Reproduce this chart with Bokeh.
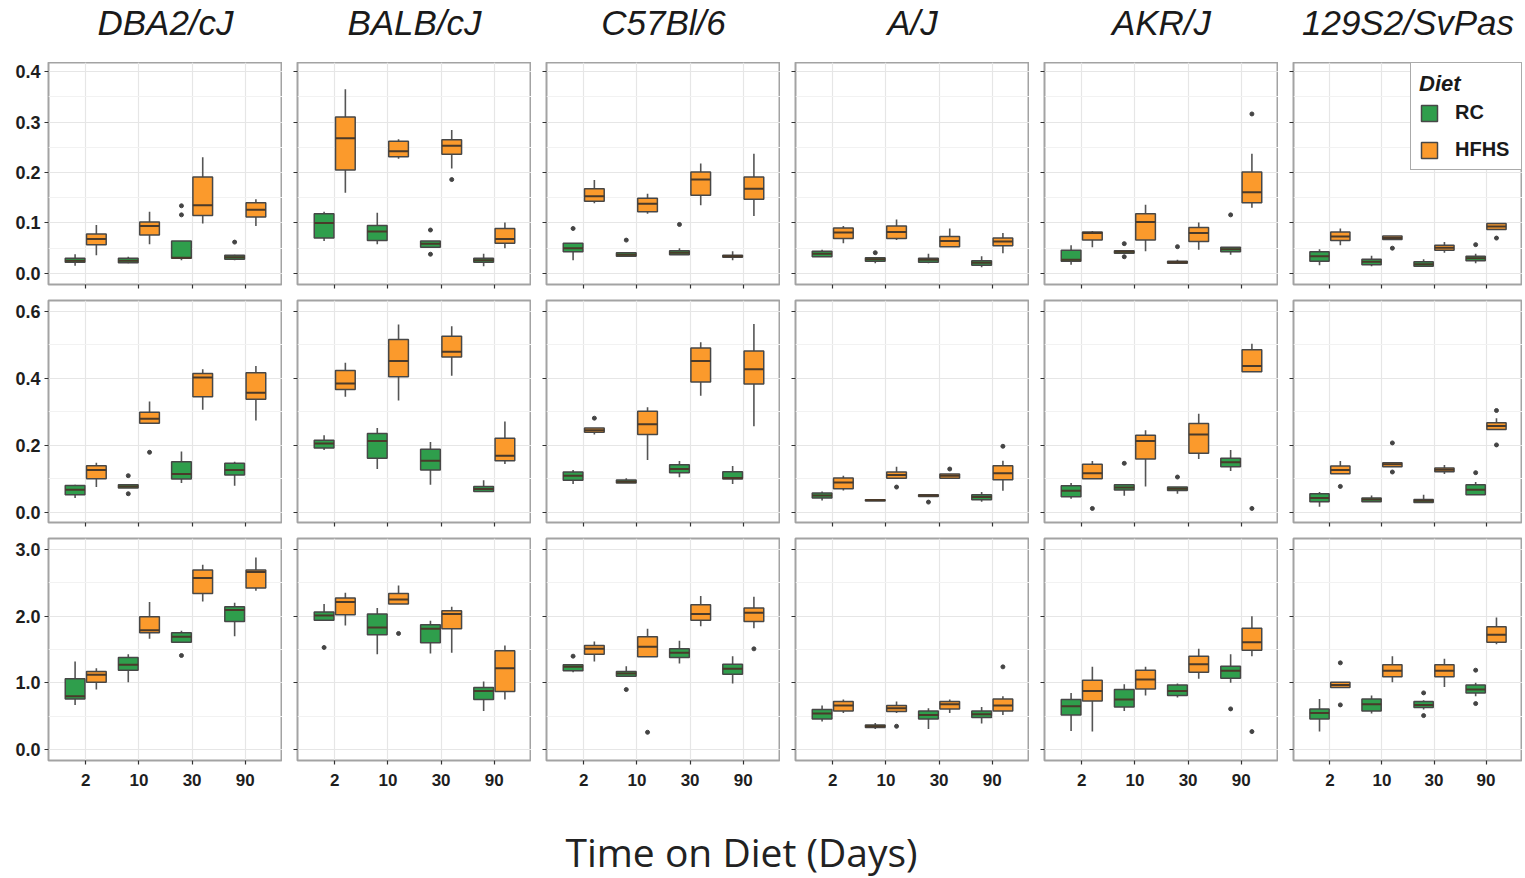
from bokeh.plotting import figure
from bokeh.layouts import gridplot, column
from bokeh.models import (ColumnDataSource, FactorRange, Range1d, FixedTicker,
                          NumeralTickFormatter, Legend, LegendItem, Label,
                          CustomLabelingPolicy)
from bokeh.transform import dodge
from bokeh.embed import file_html
from bokeh.resources import INLINE

strains = ["DBA2/cJ", "BALB/cJ", "C57Bl/6", "A/J", "AKR/J", "129S2/SvPas"]
times = ["2", "10", "30", "90"]
diets = ["RC", "HFHS"]
diet_colors = ["#2f9e4c", "#fb9a2c"]

# five-number summaries per time point: (lower whisker, Q1, median, Q3, upper whisker)
# ---- row 1
r1_DBA_RC    = [(0.015,0.022,0.025,0.030,0.038),(0.020,0.021,0.025,0.030,0.033),(0.026,0.030,0.031,0.064,0.064),(0.026,0.028,0.032,0.036,0.037)]
r1_DBA_HFHS  = [(0.036,0.057,0.068,0.078,0.096),(0.058,0.076,0.094,0.102,0.122),(0.099,0.115,0.135,0.191,0.230),(0.094,0.112,0.126,0.140,0.147)]
r1_BALB_RC   = [(0.064,0.070,0.100,0.118,0.122),(0.058,0.065,0.083,0.095,0.120),(0.052,0.052,0.059,0.064,0.064),(0.014,0.022,0.026,0.030,0.039)]
r1_BALB_HFHS = [(0.160,0.205,0.268,0.310,0.365),(0.227,0.231,0.242,0.262,0.266),(0.208,0.236,0.253,0.265,0.284),(0.050,0.060,0.068,0.089,0.101)]
r1_C57_RC    = [(0.026,0.043,0.050,0.060,0.060),(0.034,0.034,0.037,0.041,0.041),(0.037,0.037,0.041,0.045,0.050),(0.026,0.032,0.034,0.036,0.044)]
r1_C57_HFHS  = [(0.139,0.143,0.153,0.168,0.185),(0.118,0.122,0.138,0.149,0.158),(0.135,0.155,0.186,0.201,0.218),(0.114,0.147,0.168,0.191,0.237)]
r1_AJ_RC     = [(0.033,0.033,0.039,0.044,0.047),(0.020,0.024,0.028,0.031,0.031),(0.020,0.022,0.027,0.030,0.039),(0.012,0.016,0.021,0.025,0.034)]
r1_AJ_HFHS   = [(0.060,0.069,0.081,0.090,0.094),(0.066,0.069,0.082,0.094,0.107),(0.053,0.053,0.064,0.073,0.089),(0.040,0.055,0.063,0.070,0.080)]
r1_AKR_RC    = [(0.017,0.024,0.027,0.046,0.056),(0.040,0.040,0.043,0.045,0.045),(0.020,0.020,0.022,0.024,0.027),(0.037,0.043,0.048,0.052,0.052)]
r1_AKR_HFHS  = [(0.052,0.066,0.080,0.082,0.084),(0.044,0.066,0.102,0.118,0.136),(0.047,0.063,0.080,0.091,0.101),(0.130,0.140,0.161,0.201,0.237)]
r1_129_RC    = [(0.016,0.024,0.034,0.043,0.048),(0.014,0.017,0.023,0.028,0.035),(0.014,0.014,0.018,0.023,0.028),(0.020,0.025,0.030,0.034,0.039)]
r1_129_HFHS  = [(0.056,0.065,0.073,0.082,0.089),(0.067,0.067,0.070,0.074,0.074),(0.041,0.046,0.051,0.056,0.062),(0.087,0.087,0.093,0.099,0.099)]
# outliers (time, value)
r1_DBA_RC_out   = [("30",0.134),("30",0.116),("90",0.062)]
r1_DBA_HFHS_out = []
r1_BALB_RC_out  = [("30",0.086),("30",0.038)]
r1_BALB_HFHS_out= [("30",0.186)]
r1_C57_RC_out   = [("2",0.089),("10",0.066),("30",0.097)]
r1_C57_HFHS_out = []
r1_AJ_RC_out    = [("10",0.041)]
r1_AJ_HFHS_out  = []
r1_AKR_RC_out   = [("10",0.059),("10",0.033),("30",0.053),("90",0.116)]
r1_AKR_HFHS_out = [("90",0.316)]
r1_129_RC_out   = [("90",0.057)]
r1_129_HFHS_out = [("10",0.050),("90",0.070)]

# ---- row 2
r2_DBA_RC    = [(0.042,0.052,0.067,0.080,0.082),(0.072,0.072,0.077,0.082,0.082),(0.087,0.099,0.114,0.151,0.181),(0.079,0.111,0.126,0.146,0.151)]
r2_DBA_HFHS  = [(0.075,0.100,0.126,0.139,0.148),(0.266,0.266,0.279,0.299,0.331),(0.306,0.345,0.403,0.415,0.427),(0.274,0.338,0.357,0.417,0.437)]
r2_BALB_RC   = [(0.186,0.192,0.205,0.215,0.230),(0.129,0.161,0.213,0.235,0.252),(0.082,0.126,0.154,0.188,0.210),(0.062,0.062,0.069,0.077,0.095)]
r2_BALB_HFHS = [(0.345,0.367,0.385,0.424,0.447),(0.334,0.405,0.452,0.516,0.561),(0.408,0.464,0.480,0.526,0.556),(0.144,0.154,0.169,0.221,0.271)]
r2_C57_RC    = [(0.084,0.095,0.109,0.120,0.126),(0.087,0.087,0.091,0.096,0.101),(0.104,0.118,0.129,0.142,0.153),(0.084,0.099,0.102,0.121,0.138)]
r2_C57_HFHS  = [(0.232,0.239,0.245,0.252,0.252),(0.156,0.232,0.263,0.302,0.314),(0.348,0.389,0.452,0.491,0.508),(0.257,0.383,0.427,0.482,0.563)]
r2_AJ_RC     = [(0.035,0.042,0.050,0.057,0.062),(0.033,0.033,0.036,0.037,0.037),(0.047,0.047,0.050,0.052,0.052),(0.031,0.037,0.045,0.052,0.060)]
r2_AJ_HFHS   = [(0.065,0.070,0.089,0.102,0.109),(0.101,0.101,0.111,0.120,0.136),(0.101,0.101,0.109,0.114,0.114),(0.064,0.097,0.116,0.139,0.154)]
r2_AKR_RC    = [(0.040,0.046,0.064,0.079,0.087),(0.049,0.066,0.074,0.082,0.082),(0.055,0.065,0.070,0.075,0.075),(0.123,0.136,0.149,0.161,0.186)]
r2_AKR_HFHS  = [(0.100,0.100,0.116,0.143,0.153),(0.077,0.159,0.213,0.230,0.245),(0.159,0.176,0.232,0.265,0.294),(0.420,0.420,0.437,0.486,0.504)]
r2_129_RC    = [(0.016,0.031,0.042,0.055,0.060),(0.031,0.031,0.038,0.042,0.050),(0.029,0.029,0.034,0.038,0.052),(0.052,0.052,0.067,0.082,0.090)]
r2_129_HFHS  = [(0.115,0.115,0.126,0.138,0.153),(0.136,0.136,0.143,0.148,0.148),(0.114,0.121,0.127,0.132,0.141),(0.247,0.247,0.258,0.267,0.281)]
r2_DBA_RC_out   = [("10",0.109),("10",0.055)]
r2_DBA_HFHS_out = [("10",0.179)]
r2_BALB_RC_out  = []
r2_BALB_HFHS_out= []
r2_C57_RC_out   = []
r2_C57_HFHS_out = [("2",0.281)]
r2_AJ_RC_out    = [("30",0.030)]
r2_AJ_HFHS_out  = [("10",0.075),("30",0.129),("90",0.197)]
r2_AKR_RC_out   = [("10",0.146),("30",0.105)]
r2_AKR_HFHS_out = [("2",0.011),("90",0.011)]
r2_129_RC_out   = [("90",0.118)]
r2_129_HFHS_out = [("2",0.077),("10",0.207),("10",0.120),("90",0.304),("90",0.201)]

# ---- row 3
r3_DBA_RC    = [(0.67,0.76,0.80,1.06,1.32),(1.01,1.19,1.27,1.38,1.43),(1.60,1.61,1.69,1.75,1.78),(1.70,1.92,2.09,2.14,2.20)]
r3_DBA_HFHS  = [(0.90,1.01,1.12,1.17,1.22),(1.66,1.75,1.79,1.99,2.21),(2.22,2.34,2.57,2.69,2.77),(2.38,2.42,2.66,2.69,2.88)]
r3_BALB_RC   = [(1.94,1.94,2.01,2.06,2.18),(1.43,1.72,1.83,2.03,2.12),(1.44,1.60,1.81,1.87,1.93),(0.58,0.75,0.88,0.93,1.02)]
r3_BALB_HFHS = [(1.86,2.02,2.21,2.27,2.35),(2.18,2.18,2.25,2.34,2.46),(1.45,1.81,2.03,2.08,2.14),(0.75,0.87,1.22,1.48,1.56)]
r3_C57_RC    = [(1.16,1.18,1.24,1.27,1.27),(1.10,1.10,1.14,1.17,1.25),(1.29,1.38,1.45,1.51,1.63),(0.99,1.13,1.21,1.28,1.40)]
r3_C57_HFHS  = [(1.32,1.43,1.51,1.56,1.62),(1.39,1.39,1.54,1.69,1.81),(1.85,1.94,2.03,2.17,2.30),(1.82,1.92,2.05,2.12,2.29)]
r3_AJ_RC     = [(0.42,0.46,0.54,0.60,0.66),(0.31,0.33,0.35,0.37,0.40),(0.31,0.46,0.52,0.58,0.62),(0.39,0.48,0.53,0.58,0.64)]
r3_AJ_HFHS   = [(0.55,0.58,0.66,0.72,0.75),(0.55,0.57,0.62,0.66,0.72),(0.55,0.61,0.68,0.72,0.75),(0.52,0.58,0.66,0.76,0.80)]
r3_AKR_RC    = [(0.28,0.52,0.65,0.75,0.85),(0.58,0.64,0.75,0.90,0.98),(0.78,0.81,0.88,0.97,0.99),(1.00,1.07,1.18,1.25,1.43)]
r3_AKR_HFHS  = [(0.27,0.73,0.88,1.04,1.24),(0.81,0.91,1.05,1.19,1.24),(1.06,1.16,1.28,1.40,1.51),(1.40,1.49,1.61,1.82,2.00)]
r3_129_RC    = [(0.27,0.46,0.55,0.61,0.76),(0.54,0.58,0.68,0.76,0.81),(0.60,0.63,0.67,0.72,0.74),(0.80,0.85,0.90,0.97,1.00)]
r3_129_HFHS  = [(0.93,0.93,0.97,1.01,1.01),(1.01,1.09,1.18,1.27,1.40),(0.94,1.09,1.18,1.27,1.36),(1.58,1.61,1.72,1.84,1.98)]
r3_DBA_RC_out   = [("30",1.41)]
r3_DBA_HFHS_out = []
r3_BALB_RC_out  = [("2",1.53)]
r3_BALB_HFHS_out= [("10",1.74)]
r3_C57_RC_out   = [("2",1.40),("10",0.90)]
r3_C57_HFHS_out = [("10",0.26),("90",1.51)]
r3_AJ_RC_out    = []
r3_AJ_HFHS_out  = [("10",0.35),("90",1.24)]
r3_AKR_RC_out   = [("90",0.61)]
r3_AKR_HFHS_out = [("90",0.27)]
r3_129_RC_out   = [("30",0.85),("30",0.51),("90",1.19),("90",0.69)]
r3_129_HFHS_out = [("2",1.30),("2",0.67)]

# y-axis ticks per row
row_ticks = [[0.0, 0.1, 0.2, 0.3, 0.4], [0.0, 0.2, 0.4, 0.6], [0.0, 1.0, 2.0, 3.0]]
row_minor = [[0.05, 0.15, 0.25, 0.35], [0.1, 0.3, 0.5], [0.5, 1.5, 2.5]]
row_yrange = [(-0.022, 0.418), (-0.031, 0.633), (-0.163, 3.163)]

keys = ["DBA", "BALB", "C57", "AJ", "AKR", "129"]
g = globals()
stats = [[(g[f"r{r+1}_{k}_RC"], g[f"r{r+1}_{k}_HFHS"]) for k in keys] for r in range(3)]
outs = [[(g[f"r{r+1}_{k}_RC_out"], g[f"r{r+1}_{k}_HFHS_out"]) for k in keys] for r in range(3)]

FONT = "Liberation Sans"
OFFSETS = [-0.2, 0.2]
BOXW = 0.37
TOTAL_W = 1524
LEFT0, GAP = 48, 15
FRAME_W = [234, 234, 234, 234, 234, 229]
TITLE_H = 62


def no_labels():
    # keep tick marks, draw no tick labels
    return CustomLabelingPolicy(code="""
        const all = [...indices];
        for (const i of all) { indices.unset(i) }
        return indices
    """)


# horizontal frame centres of each column (for the strain headers)
centres = []
xpos = 0
for c in range(6):
    xpos += LEFT0 if c == 0 else GAP
    centres.append(xpos + FRAME_W[c] / 2)
    xpos += FRAME_W[c]

# header strip with strain names
hdr = figure(width=TOTAL_W, height=TITLE_H, x_range=Range1d(0, TOTAL_W), y_range=Range1d(0, TITLE_H),
             x_axis_location=None, y_axis_location=None, min_border=0,
             output_backend="svg", toolbar_location=None)
hdr.outline_line_color = None
hdr.grid.visible = False
for c in range(6):
    hdr.add_layout(Label(x=centres[c], y=TITLE_H - 22, text=strains[c],
                         text_align="center", text_baseline="middle",
                         text_font=FONT, text_font_style="italic",
                         text_font_size="35px", text_color="#1a1a1a"))

rows = []
legend_renderers = {}
for r in range(3):
    row = []
    for c in range(6):
        p = figure(
            x_range=FactorRange(factors=times, range_padding=0.2, range_padding_units="absolute"),
            y_range=Range1d(*row_yrange[r]),
            frame_width=FRAME_W[c], frame_height=222,
            min_border_left=LEFT0 if c == 0 else GAP, min_border_right=0,
            min_border_top=0 if r == 0 else 8,
            min_border_bottom=40 if r == 2 else 8,
            output_backend="svg", toolbar_location=None,
        )
        p.background_fill_color = "white"
        p.border_fill_color = "white"
        p.outline_line_color = "#a3a3a3"
        p.outline_line_width = 2

        # grid
        p.xgrid.grid_line_color = "#e6e6e6"
        p.ygrid.grid_line_color = "#e6e6e6"
        p.ygrid.minor_grid_line_color = "#f2f2f2"
        p.xgrid.grid_line_width = 1.2
        p.ygrid.grid_line_width = 1.2

        # axes
        p.yaxis.ticker = FixedTicker(ticks=row_ticks[r], minor_ticks=row_minor[r])
        p.yaxis.formatter = NumeralTickFormatter(format="0.0")
        for ax in (p.xaxis[0], p.yaxis[0]):
            ax.axis_line_color = None
            ax.major_tick_line_color = "#333333"
            ax.major_tick_line_width = 1.2
            ax.major_tick_out = 4
            ax.major_tick_in = 0
            ax.minor_tick_line_color = None
            ax.major_label_text_font = FONT
            ax.major_label_text_font_style = "bold"
            ax.major_label_text_color = "#1e1e1e"
        p.yaxis.major_label_text_font_size = "18px"
        p.xaxis.major_label_text_font_size = "17px"
        if c != 0:
            p.yaxis.major_label_policy = no_labels()
            p.yaxis.major_label_text_font_size = "1px"
            p.yaxis.major_label_standoff = 0
        else:
            p.yaxis.major_label_standoff = 4
        if r != 2:
            p.xaxis.major_label_policy = no_labels()
            p.xaxis.major_label_text_font_size = "1px"
            p.xaxis.major_label_standoff = 0
        else:
            p.xaxis.major_label_standoff = 9

        for d in range(2):
            s = stats[r][c][d]
            src = ColumnDataSource(dict(
                time=times,
                lo=[v[0] for v in s], q1=[v[1] for v in s], med=[v[2] for v in s],
                q3=[v[3] for v in s], hi=[v[4] for v in s]))
            xd = dodge("time", OFFSETS[d], range=p.x_range)
            p.segment(x0=xd, y0="lo", x1=xd, y1="q1", source=src, line_color="#555555", line_width=1.6)
            p.segment(x0=xd, y0="q3", x1=xd, y1="hi", source=src, line_color="#555555", line_width=1.6)
            box = p.vbar(x=xd, width=BOXW, bottom="q1", top="q3", source=src,
                         fill_color=diet_colors[d], line_color="#474747", line_width=1.5)
            p.vbar(x=xd, width=BOXW, bottom="med", top="med", source=src,
                   fill_color=None, line_color="#4a3a2a", line_width=2)
            o = outs[r][c][d]
            if o:
                osrc = ColumnDataSource(dict(time=[t for t, _ in o], val=[v for _, v in o]))
                p.scatter(x=dodge("time", OFFSETS[d], range=p.x_range), y="val", source=osrc,
                          size=4, color="#444444")
            if r == 0 and c == 5:
                legend_renderers[diets[d]] = box

        if r == 0 and c == 5:
            leg = Legend(items=[LegendItem(label=dn, renderers=[legend_renderers[dn]]) for dn in diets],
                         location="top_right", title="Diet")
            leg.margin = 0
            leg.padding = 8
            leg.spacing = 14
            leg.glyph_width = 20
            leg.glyph_height = 20
            leg.label_height = 20
            leg.label_width = 58
            leg.label_standoff = 16
            leg.title_standoff = 4
            leg.title_text_font = FONT
            leg.title_text_font_style = "bold italic"
            leg.title_text_font_size = "22px"
            leg.title_text_color = "#1a1a1a"
            leg.label_text_font = FONT
            leg.label_text_font_style = "bold"
            leg.label_text_font_size = "20px"
            leg.label_text_color = "#1a1a1a"
            leg.border_line_color = "#555555"
            leg.border_line_width = 1.5
            leg.background_fill_color = "white"
            leg.background_fill_alpha = 1.0
            p.add_layout(leg)
        row.append(p)
    rows.append(row)

grid = gridplot(rows, toolbar_location=None)

xt = figure(width=TOTAL_W, height=78, x_range=Range1d(0, TOTAL_W), y_range=Range1d(0, 78),
            x_axis_location=None, y_axis_location=None, min_border=0,
            output_backend="svg", toolbar_location=None)
xt.outline_line_color = None
xt.grid.visible = False
xt.add_layout(Label(x=741, y=78 - 51, text="Time on Diet (Days)",
                    text_align="center", text_baseline="middle",
                    text_font="Open Sans", text_font_size="39px", text_color="#222222"))

layout = column(hdr, grid, xt)
open("out.html", "w").write(file_html(layout, INLINE))
